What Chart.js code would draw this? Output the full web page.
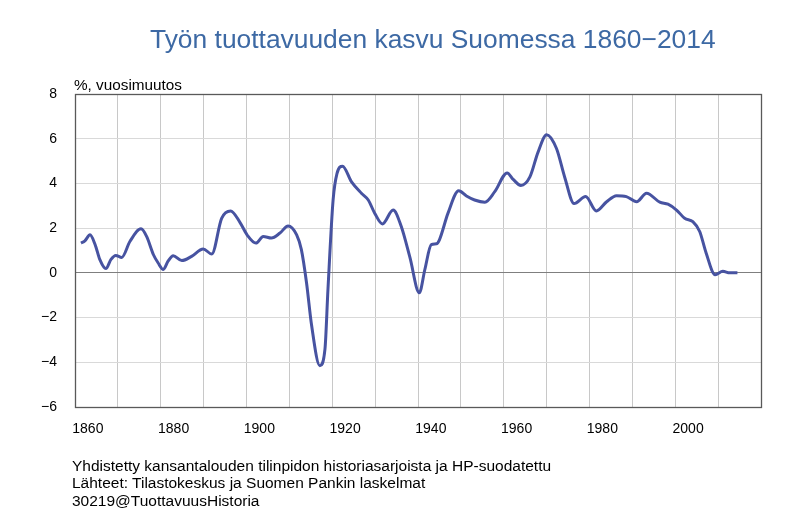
<!DOCTYPE html>
<html>
<head>
<meta charset="utf-8">
<script src="https://cdn.jsdelivr.net/npm/chart.js@4"></script>
<style>
  body { margin: 0; background: #fff; }
  #wrap { position: relative; width: 800px; height: 522px; font-family: "Liberation Sans", Arial, sans-serif; }
  #title { position: absolute; left: 150px; top: 26px; font-size: 26.4px; line-height: 26.4px; color: #3d69a4; white-space: nowrap; }
  #unit { position: absolute; left: 74px; top: 77px; font-size: 15.3px; line-height: 15.3px; color: #000; }
  #notes { position: absolute; left: 72px; top: 457px; font-size: 15.5px; line-height: 17.3px; color: #000; white-space: nowrap; }
</style>
</head>
<body>
<div id="wrap">
  <canvas id="myChart" width="800" height="522"></canvas>
  <div id="title">Työn tuottavuuden kasvu Suomessa 1860−2014</div>
  <div id="unit">%, vuosimuutos</div>
  <div id="notes">
    Yhdistetty kansantalouden tilinpidon historiasarjoista ja HP-suodatettu<br>
    Lähteet: Tilastokeskus ja Suomen Pankin laskelmat<br>
    30219@TuottavuusHistoria
  </div>
</div>
<script>
// vuodet ja tuottavuuden kasvu (%), luettu kuvasta
const years = [
  1858.4, 1859.3, 1860.5, 1861.7, 1862.8, 1864.2, 1865.4, 1866.5, 1867.9, 1869.8,
  1872.4, 1873.7, 1875.3, 1876.4, 1877.6, 1878.7, 1879.9, 1881.9, 1884.2, 1886.9,
  1888.9, 1891.2, 1893.3, 1895.5, 1897.2, 1899.2, 1900.9, 1902.8, 1904.8, 1906.7,
  1908.7, 1909.8, 1911.0, 1912.2, 1914.1, 1915.3, 1916.0, 1917.2, 1918.1, 1919.4,
  1921.5, 1923.8, 1925.4, 1926.9, 1928.7, 1931.2, 1933.1, 1935.1, 1937.3, 1938.6,
  1940.1, 1941.3, 1942.0, 1944.0, 1946.5, 1948.3, 1950.2, 1952.6, 1954.9, 1957.8,
  1959.2, 1961.0, 1963.1, 1965.0, 1967.0, 1969.3, 1971.2, 1973.4, 1976.1, 1978.6,
  1981.0, 1983.3, 1985.6, 1988.0, 1990.3, 1993.4, 1995.3, 1997.3, 1999.2, 2001.1,
  2002.7, 2004.2, 2006.3, 2008.1, 2009.7, 2011.5
];
const growth = [
  1.33, 1.43, 1.70, 1.26, 0.59, 0.19, 0.60, 0.78, 0.69, 1.40,
  1.97, 1.63, 0.81, 0.44, 0.15, 0.52, 0.77, 0.55, 0.74, 1.07,
  0.84, 2.44, 2.77, 2.25, 1.68, 1.33, 1.63, 1.56, 1.78, 2.10,
  1.70, 1.04, -0.44, -2.37, -4.15, -3.41, -0.74, 3.26, 4.44, 4.77,
  4.07, 3.56, 3.26, 2.67, 2.19, 2.81, 2.07, 0.70, -0.89, 0.15,
  1.26, 1.30, 1.48, 2.67, 3.67, 3.44, 3.26, 3.16, 3.63, 4.47,
  4.18, 3.91, 4.29, 5.40, 6.18, 5.56, 4.29, 3.10, 3.41, 2.77,
  3.18, 3.45, 3.41, 3.18, 3.56, 3.16, 3.07, 2.81, 2.44, 2.29,
  1.85, 0.89, -0.08, 0.07, 0.00, 0.00
];
const xTickLabels = [1860, 1880, 1900, 1920, 1940, 1960, 1980, 2000];
const yTickLabels = [-6, -4, -2, 0, 2, 4, 6, 8];

const xMin = 1857, xMax = 2017;

// ruudukon pystyviivat 10 vuoden välein
const xGrid = [];
for (let v = xMin; v <= xMax; v += 10) xGrid.push(v);

// kehys piirtoalueen ympärille
const frame = {
  id: 'frame',
  afterDraw(chart) {
    const a = chart.chartArea, c = chart.ctx;
    c.save();
    c.strokeStyle = '#595959';
    c.lineWidth = 1.3;
    c.strokeRect(Math.round(a.left) + 0.5, Math.round(a.top) + 0.5,
      Math.round(a.right - a.left), Math.round(a.bottom - a.top));
    c.restore();
  }
};

const ctx = document.getElementById('myChart').getContext('2d');
new Chart(ctx, {
  type: 'line',
  data: {
    datasets: [{
      data: years.map((y, i) => ({ x: y, y: growth[i] })),
      borderColor: '#4753a1',
      borderWidth: 3,
      pointRadius: 0,
      fill: false,
      cubicInterpolationMode: 'monotone'
    }]
  },
  options: {
    responsive: false,
    animation: false,
    layout: { padding: { left: 0, top: 94, right: 39, bottom: 85 } },
    plugins: { legend: { display: false }, tooltip: { enabled: false } },
    scales: {
      x: {
        type: 'linear', min: xMin, max: xMax,
        afterBuildTicks: s => { s.ticks = xTickLabels.map(v => ({ value: v })); },
        afterFit: s => { s.height = 30; },
        grid: { display: false },
        border: { display: false },
        ticks: {
          padding: 6, maxRotation: 0, autoSkip: false,
          color: '#000',
          font: { family: 'Liberation Sans', size: 14 },
          callback: v => String(v)
        }
      },
      x2: {
        type: 'linear', min: xMin, max: xMax, position: 'bottom',
        afterBuildTicks: s => { s.ticks = xGrid.map(v => ({ value: v })); },
        afterFit: s => { s.height = 0; },
        grid: { color: '#c8c8c8', drawTicks: false },
        border: { display: false },
        ticks: { display: false }
      },
      y: {
        min: -6, max: 8,
        afterBuildTicks: s => { s.ticks = yTickLabels.map(v => ({ value: v })); },
        afterFit: s => { s.width = 75; },
        grid: {
          drawTicks: false,
          color: c => c.tick && c.tick.value === 0 ? '#7f7f7f' : '#d9d9d9'
        },
        border: { display: false },
        ticks: {
          padding: 18,
          color: '#000',
          font: { family: 'Liberation Sans', size: 14 },
          callback: v => String(v).replace('-', '\u2212')
        }
      }
    }
  },
  plugins: [frame]
});
</script>
</body>
</html>
